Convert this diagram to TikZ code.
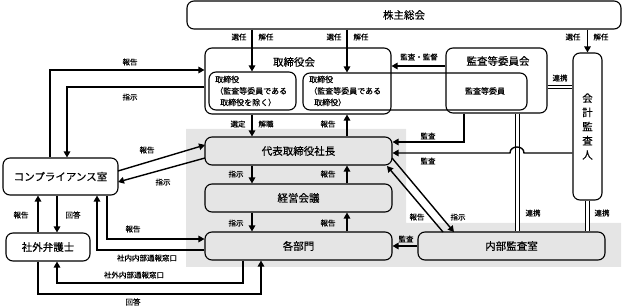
\documentclass[tikz,border=0pt]{standalone}
\usepackage{fontspec}
\setmainfont{Noto Sans CJK JP}[FakeBold=0.35]
\usetikzlibrary{arrows.meta,calc}
\definecolor{bggray}{RGB}{229,229,229}
\begin{document}
\begin{tikzpicture}[x=1pt,y=-1pt,
  box/.style={draw,line width=1.1pt,rounded corners=7pt,inner sep=0pt,font=\fontsize{10.5}{12}\selectfont},
  gbox/.style={box,fill=bggray},
  arr/.style={line width=1.4pt,-{Triangle[length=6pt,width=6.5pt]}},
  dbl/.style={line width=1pt,double,double distance=2.6pt},
  lbl/.style={font=\fontsize{7.5}{9}\selectfont,inner sep=0pt},
  ttl/.style={font=\fontsize{10.5}{12}\selectfont,inner sep=0pt},
  intext/.style={font=\fontsize{8}{11.5}\selectfont,inner sep=0pt,align=left,anchor=west},
]
\useasboundingbox (0,0) rectangle (622,307);
% gray area
\fill[bggray] (186,129) -- (406,129) -- (406,223) -- (621,223) -- (621,267) -- (186,267) -- cycle;

% boxes
\node[box,minimum width=434pt,minimum height=28pt] (sh) at (404,15) {株主総会};
\node[box,minimum width=186pt,minimum height=66pt] (tb) at (298,81) {};
\node[ttl] (tbt) at (294,62) {取締役会};
\node[box,minimum width=87pt,minimum height=38pt] (tb1) at (252.5,91) {};
\node[box,minimum width=224pt,minimum height=37pt] (tb2) at (415,91.5) {};
\node[box,minimum width=101pt,minimum height=65pt] (ac) at (496.5,80.5) {};
\node[ttl] (act) at (498,61) {監査等委員会};
\node[intext] (t1) at (215,91) {取締役\\（監査等委員である\\\hspace*{5pt}取締役を除く）};
\node[intext] (t2) at (309,91) {取締役\\（監査等委員である\\\hspace*{5pt}取締役）};
\node[font=\fontsize{8}{10}\selectfont,inner sep=0pt] (t3) at (485,91) {監査等委員};
\node[box,minimum width=29pt,minimum height=147pt,align=center,font=\fontsize{10.5}{14.2}\selectfont] (aud) at (587.5,126.5) {会\\計\\監\\査\\人};
\node[gbox,minimum width=187pt,minimum height=28pt] (ceo) at (298.5,151) {代表取締役社長};
\node[gbox,minimum width=187pt,minimum height=28pt] (mtg) at (298.5,198) {経営会議};
\node[gbox,minimum width=187pt,minimum height=28pt] (dept) at (298.5,246) {各部門};
\node[gbox,minimum width=187pt,minimum height=28pt] (ia) at (511.5,246) {内部監査室};
\node[box,fill=white,minimum width=115pt,minimum height=37pt] (comp) at (60.5,176.5) {コンプライアンス室};
\node[box,fill=white,minimum width=84pt,minimum height=28pt] (law) at (48,247) {社外弁護士};

% helper coordinates
\coordinate (xa) at (252,0);
\coordinate (xb) at (347,0);
\coordinate (ym) at (0,66);
\coordinate (yl) at (0,87);
\coordinate (p1) at (464,142);
\coordinate (p2) at (0,153);
\coordinate (h1) at (524,153);
\coordinate (h2) at (510,153);
\coordinate (xd) at (517.5,0);
\coordinate (d1) at (392,158);
\coordinate (d2) at (454,232);
\coordinate (d3) at (443,232);
\coordinate (d4) at (387,166);
\coordinate (c1) at (50,70);
\coordinate (c2) at (67,87);
\coordinate (e1) at (118,171);
\coordinate (e2) at (205,145);
\coordinate (e3) at (205,158);
\coordinate (e4) at (118,182);
\coordinate (c3) at (107,239);
\coordinate (c4) at (97,250);
\coordinate (xl1) at (38,0);
\coordinate (xl2) at (57,0);
\coordinate (c5) at (243,283);
\coordinate (c6) at (57,283);
\coordinate (c7) at (38,294);
\coordinate (c8) at (261,294);

% connectors
\draw[arr] (xa |- sh.south) -- (xa |- tb1.north);
\draw[arr] (xb |- sh.south) -- (xb |- tb2.north);
\draw[arr] (sh.south -| aud.north) -- (aud.north);
\draw[arr] (xa |- tb.south) -- (xa |- ceo.north);
\draw[arr] (xb |- ceo.north) -- (xb |- tb.south);
\draw[arr] (xa |- ceo.south) -- (xa |- mtg.north);
\draw[arr] (xb |- mtg.north) -- (xb |- ceo.south);
\draw[arr] (xa |- mtg.south) -- (xa |- dept.north);
\draw[arr] (xb |- dept.north) -- (xb |- mtg.south);
\draw[arr] (ac.west |- ym) -- (tb.east |- ym);
\draw[dbl] (ac.east |- yl) -- (aud.west |- yl);
\draw[arr] (p1 |- ac.south) -- (p1) -- (p1 -| ceo.east);
\draw[dbl] (xd |- ac.south) -- (xd |- ia.north);
\draw[dbl] (aud.south) -- (aud.south |- ia.north);
\draw[arr] (aud.west |- p2) -- (h1) .. controls ($(h1)+(0,-8)$) and ($(h2)+(0,-8)$) .. (h2) -- (ceo.east |- p2);
\draw[arr] (d1) -- (d2);
\draw[arr] (d3) -- (d4);
\draw[arr] (ia.west) -- (dept.east);
\draw[arr] (c1 |- comp.north) -- (c1) -- (c1 -| tb.west);
\draw[arr] (c2 -| tb.west) -- (c2) -- (c2 |- comp.north);
\draw[arr] (e1) -- (e2);
\draw[arr] (e3) -- (e4);
\draw[arr] (c3 |- comp.south) -- (c3) -- (c3 -| dept.west);
\draw[arr] (c4 -| dept.west) -- (c4) -- (c4 |- comp.south);
\draw[arr] (xl1 |- law.north) -- (xl1 |- comp.south);
\draw[arr] (xl2 |- comp.south) -- (xl2 |- law.north);
\draw[arr] (c5 |- dept.south) -- (c5) -- (c6) -- (c6 |- law.south);
\draw[arr] (c7 |- law.south) -- (c7) -- (c8) -- (c8 |- dept.south);

% labels
\node[lbl] (l1) at (239,37) {選任};
\node[lbl] (l2) at (266,37) {解任};
\node[lbl] (l3) at (334,37) {選任};
\node[lbl] (l4) at (361,37) {解任};
\node[lbl] (l5) at (573,37) {選任};
\node[lbl] (l6) at (601,37) {解任};
\node[lbl] (l7) at (419,57) {監査・監督};
\node[lbl] (l8) at (560,78) {連携};
\node[lbl] (l9) at (238,124) {選定};
\node[lbl] (l10) at (266,124) {解職};
\node[lbl] (l11) at (328,124) {報告};
\node[lbl] (l12) at (236,174) {指示};
\node[lbl] (l13) at (328,174) {報告};
\node[lbl] (l14) at (236,223) {指示};
\node[lbl] (l15) at (328,223) {報告};
\node[lbl] (l16) at (428,136) {監査};
\node[lbl] (l17) at (428,161) {監査};
\node[lbl] (l18) at (533,213) {連携};
\node[lbl] (l19) at (602,213) {連携};
\node[lbl] (l20) at (417,217) {報告};
\node[lbl] (l21) at (458,217) {指示};
\node[lbl] (l22) at (406,239) {監査};
\node[lbl] (l23) at (130,62) {報告};
\node[lbl] (l24) at (130,97) {指示};
\node[lbl] (l25) at (147,150) {報告};
\node[lbl] (l26) at (163,182) {指示};
\node[lbl] (l27) at (21,215) {報告};
\node[lbl] (l28) at (73,215) {回答};
\node[lbl] (l29) at (133,229) {報告};
\node[lbl] (l30) at (147,258) {社内内部通報窓口};
\node[lbl] (l31) at (134,275) {社外内部通報窓口};
\node[lbl] (l32) at (133,302) {回答};
\end{tikzpicture}
\end{document}
